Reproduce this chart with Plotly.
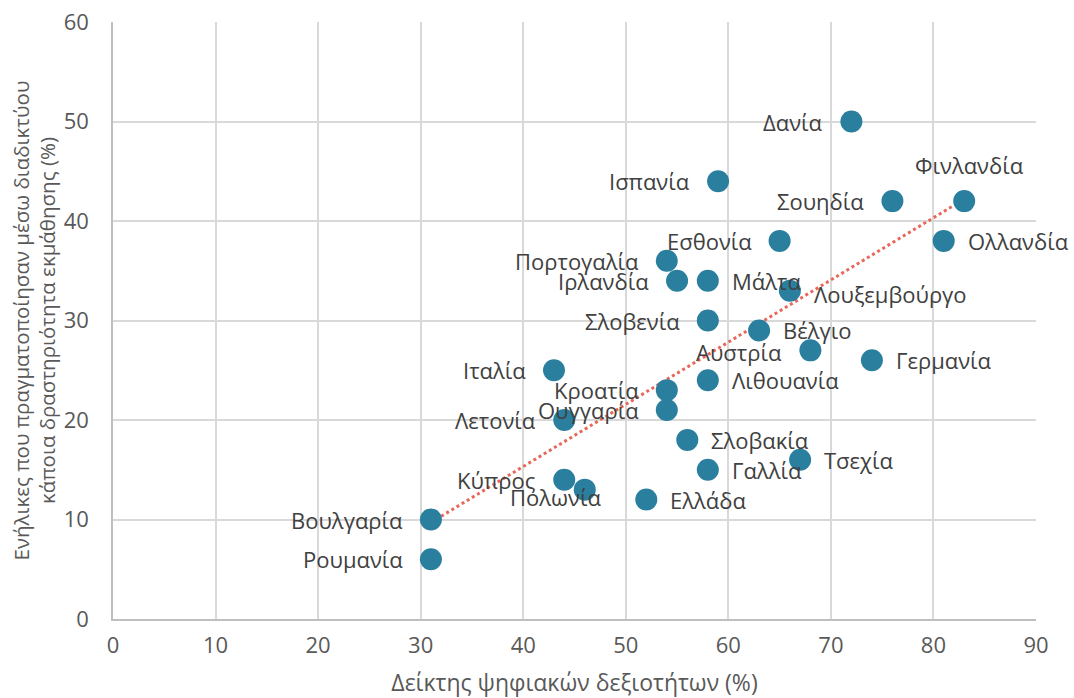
import numpy as np
import plotly.graph_objects as go

countries = ["Δανία", "Ισπανία", "Σουηδία", "Φινλανδία", "Εσθονία", "Ολλανδία",
             "Πορτογαλία", "Ιρλανδία", "Μάλτα", "Λουξεμβούργο", "Σλοβενία", "Βέλγιο",
             "Αυστρία", "Γερμανία", "Ιταλία", "Λιθουανία", "Κροατία", "Ουγγαρία",
             "Λετονία", "Σλοβακία", "Τσεχία", "Γαλλία", "Κύπρος", "Πολωνία",
             "Ελλάδα", "Βουλγαρία", "Ρουμανία"]
digital_skills = [72, 59, 76, 83, 65, 81, 54, 55, 58, 66, 58, 63, 68, 74, 43, 58, 54, 54,
                  44, 56, 67, 58, 44, 46, 52, 31, 31]
online_learning = [50, 44, 42, 42, 38, 38, 36, 34, 34, 33, 30, 29, 27, 26, 25, 24, 23, 21,
                   20, 18, 16, 15, 14, 13, 12, 10, 6]
# label placement keys
label_pos = ["L", "L", "L", "T", "L", "R", "L", "L", "R", "RB", "L", "R", "AUS", "R", "L",
             "R", "L", "L", "L", "R", "R", "R", "L", "POL", "R", "L", "L"]

x_title = "Δείκτης ψηφιακών δεξιοτήτων (%)"
y_title = "Ενήλικες που πραγματοποίησαν μέσω διαδικτύου<br>κάποια δραστηριότητα εκμάθησης (%)"

fig = go.Figure()

# trendline (linear least squares)
xs = np.array(digital_skills, dtype=float)
ys = np.array(online_learning, dtype=float)
m, b = np.polyfit(xs, ys, 1)
tx = np.array([xs.min(), xs.max()])
fig.add_trace(go.Scatter(x=tx, y=m * tx + b, mode="lines",
                         line=dict(color="#E8675A", width=3, dash="dot"),
                         hoverinfo="skip", showlegend=False))

fig.add_trace(go.Scatter(x=digital_skills, y=online_learning, mode="markers",
                         marker=dict(size=22, color="#2A7F9E"),
                         text=countries, showlegend=False))

offsets = {
    "L": ("right", -26, 0),
    "R": ("left", 22, 0),
    "T": ("center", 5, 36),
    "RB": ("left", 22, -3),
    "AUS": ("right", -26, -2),
    "POL": ("right", 18, -7),
}
for c, x, y, p in zip(countries, digital_skills, online_learning, label_pos):
    xa, xsft, ysft = offsets[p]
    fig.add_annotation(x=x, y=y, text=c, showarrow=False, xanchor=xa,
                       xshift=xsft, yshift=ysft,
                       font=dict(size=22, color="#404040"))

# y-axis title as rotated annotation for precise placement
fig.add_annotation(xref="paper", yref="paper", x=0, y=0.5, text=y_title,
                   showarrow=False, textangle=-90, xanchor="center", yanchor="middle",
                   xshift=-79, font=dict(size=20.5, color="#595959"))

fig.update_layout(
    width=1074, height=698,
    margin=dict(l=113, r=38, t=22, b=79),
    plot_bgcolor="white", paper_bgcolor="white",
    font=dict(family="Open Sans, DejaVu Sans, sans-serif", color="#595959", size=20),
    xaxis=dict(range=[0, 90], dtick=10, showgrid=True, gridcolor="#D9D9D9", gridwidth=1.5,
               zeroline=False, showline=True, linecolor="#BFBFBF", linewidth=1.5,
               ticks="", tickfont=dict(size=22, color="#595959"), automargin=False,
               ticklabelstandoff=6,
               title=dict(text=x_title, font=dict(size=23, color="#595959"), standoff=18)),
    yaxis=dict(range=[0, 60], dtick=10, showgrid=True, gridcolor="#D9D9D9", gridwidth=1.5,
               zeroline=False, showline=True, linecolor="#BFBFBF", linewidth=1.5,
               ticks="", tickfont=dict(size=22, color="#595959"), automargin=False,
               ticklabelstandoff=18),
)

fig.write_html("out.html", config={"displayModeBar": False},
               post_script="document.body.style.margin='0px';")
